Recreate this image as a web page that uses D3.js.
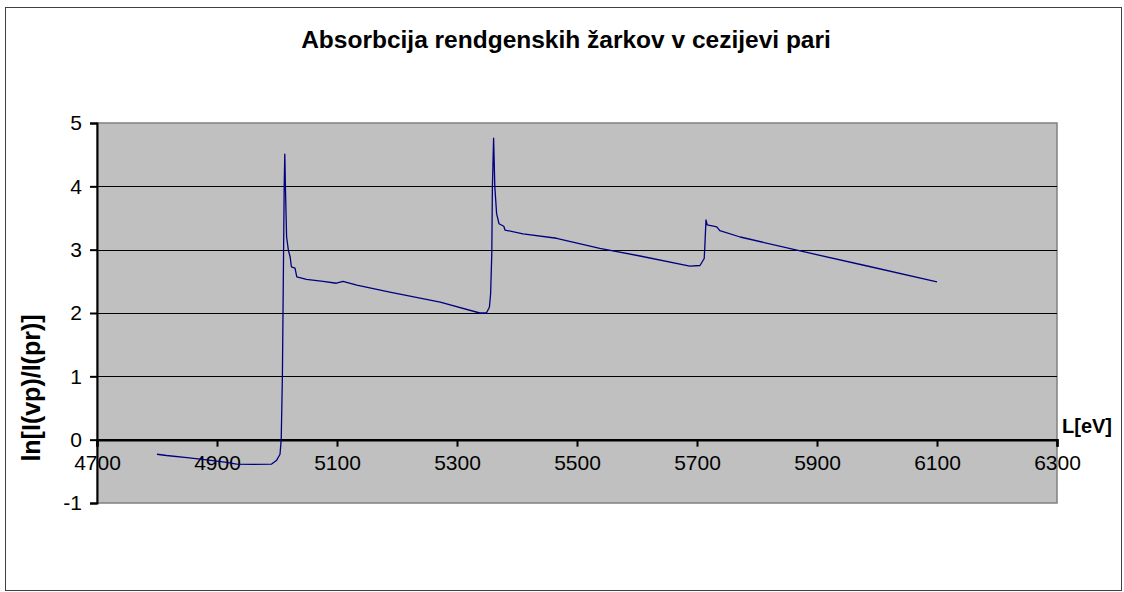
<!DOCTYPE html>
<html>
<head>
<meta charset="utf-8">
<script src="https://cdn.jsdelivr.net/npm/d3@7"></script>
<style>
  html, body { margin: 0; padding: 0; background: #fff; }
  svg { display: block; font-family: "Liberation Sans", Arial, sans-serif; }
</style>
</head>
<body>
<svg id="chart" width="1124" height="592"></svg>
<script>
// ==========
// CHART DATA
// ==========
var energy = [4800, 4816, 4850, 4883, 4916, 4933, 4960, 4991, 4999, 5005,
  5007, 5009, 5010, 5011, 5012, 5013, 5014, 5015, 5016, 5019,
  5022, 5024, 5030, 5033, 5049, 5077, 5099, 5110, 5133, 5188,
  5272, 5338, 5349, 5354, 5356, 5358, 5359, 5361, 5363, 5366,
  5370, 5378, 5380, 5410, 5466, 5538, 5605, 5688, 5705, 5712,
  5713, 5715, 5717, 5733, 5738, 5772, 5872, 5980, 6100];
var absorption = [-0.23, -0.25, -0.285, -0.32, -0.36, -0.385, -0.39, -0.385, -0.33, -0.23,
  0.0, 1.0, 2.0, 3.0, 4.0, 4.51, 4.0, 3.6, 3.2, 2.99,
  2.88, 2.73, 2.71, 2.57, 2.53, 2.50, 2.47, 2.50, 2.44, 2.33,
  2.17, 2.0, 2.0, 2.09, 2.30, 2.94, 3.99, 4.76, 4.0, 3.57,
  3.41, 3.37, 3.31, 3.25, 3.18, 3.02, 2.90, 2.74, 2.75, 2.86,
  3.04, 3.47, 3.39, 3.36, 3.30, 3.20, 2.98, 2.75, 2.49];

var xTicks = [4700, 4900, 5100, 5300, 5500, 5700, 5900, 6100, 6300];
var yTicks = [-1, 0, 1, 2, 3, 4, 5];
var gridValues = [1, 2, 3, 4];

var chartTitle = "Absorbcija rendgenskih žarkov v cezijevi pari";
var xTitle = "L[eV]";
var yTitle = "ln[I(vp)/I(pr)]";

// ========
// # LAYOUT
// ========
var svg = d3.select("#chart");
var plot = { left: 97, right: 1057, top: 123, bottom: 503 };

var x = d3.scaleLinear().domain([4700, 6300]).range([plot.left, plot.right]);
var y = d3.scaleLinear().domain([-1, 5]).range([plot.bottom, plot.top]);

// outer frame
svg.append("rect")
  .attr("x", 5.5).attr("y", 7.5)
  .attr("width", 1116).attr("height", 583)
  .attr("fill", "#fff")
  .attr("stroke", "#404040")
  .attr("stroke-width", 1);

// plot area
svg.append("rect")
  .attr("x", plot.left).attr("y", plot.top)
  .attr("width", plot.right - plot.left).attr("height", plot.bottom - plot.top)
  .attr("fill", "#c0c0c0")
  .attr("stroke", "#808080")
  .attr("stroke-width", 1.5);

// gridlines
svg.append("g")
  .selectAll("line")
  .data(gridValues)
  .enter().append("line")
  .attr("x1", plot.left).attr("x2", plot.right)
  .attr("y1", function (d) { return Math.round(y(d)) + 0.5; })
  .attr("y2", function (d) { return Math.round(y(d)) + 0.5; })
  .attr("stroke", "#000")
  .attr("stroke-width", 1);

// y axis
var yAxis = svg.append("g")
  .attr("transform", "translate(" + plot.left + ",0)")
  .call(d3.axisLeft(y).tickValues(yTicks).tickSize(7).tickPadding(8).tickFormat(d3.format("d")));
yAxis.select(".domain").attr("stroke", "#000").attr("stroke-width", 2);
yAxis.selectAll(".tick line").attr("stroke-width", 2);
yAxis.selectAll("text")
  .attr("font-size", "21px")
  .attr("font-family", "Liberation Sans, Arial, sans-serif")
  .attr("fill", "#000")
  .text(function (d) { return d < 0 ? "-" + Math.abs(d) : d; });

// x axis crossing at 0
var xAxis = svg.append("g")
  .attr("transform", "translate(0," + y(0) + ")")
  .call(d3.axisBottom(x).tickValues(xTicks).tickSize(7).tickPadding(8).tickFormat(d3.format("d")));
xAxis.select(".domain").attr("stroke", "#000").attr("stroke-width", 2.5);
xAxis.selectAll(".tick line").attr("stroke-width", 2);
xAxis.selectAll("text")
  .attr("font-size", "21px")
  .attr("font-family", "Liberation Sans, Arial, sans-serif")
  .attr("fill", "#000");

// data line
var line = d3.line()
  .x(function (d, i) { return x(energy[i]); })
  .y(function (d) { return y(d); });

svg.append("path")
  .datum(absorption)
  .attr("d", line)
  .attr("fill", "none")
  .attr("stroke", "#000080")
  .attr("stroke-width", 1.3)
  .attr("stroke-linejoin", "round");

// titles
svg.append("text")
  .attr("x", 566).attr("y", 48)
  .attr("text-anchor", "middle")
  .attr("font-size", "24.5px")
  .attr("font-weight", "bold")
  .text(chartTitle);

svg.append("text")
  .attr("x", 1062).attr("y", 433)
  .attr("font-size", "20px")
  .attr("font-weight", "bold")
  .text(xTitle);

svg.append("text")
  .attr("transform", "translate(40,388) rotate(-90)")
  .attr("text-anchor", "middle")
  .attr("font-size", "25px")
  .attr("font-weight", "bold")
  .text(yTitle);
</script>
</body>
</html>
